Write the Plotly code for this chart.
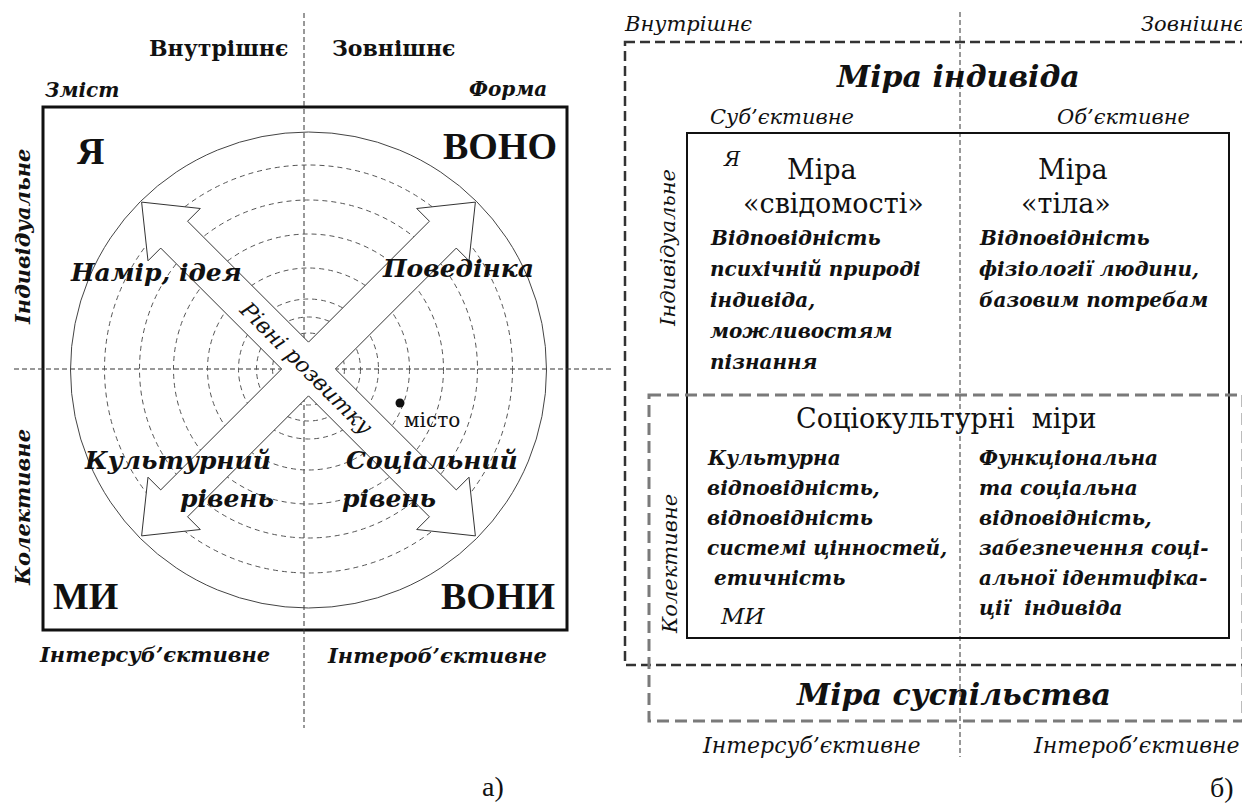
import numpy as np
import plotly.graph_objects as go

W, H = 1250, 803
PAD = 8  # page body margin in the browser
TIMES = "Liberation Serif"
WIDE = "DejaVu Serif"

# ---------------- data: panel а) ----------------
ring_radii = [36, 52, 70, 101, 135, 169, 204]
outer_radius = 238
arrow_angles_deg = [45, 135, 225, 315]
arrow_tip_dist = 236
arrow_head_len = 46
arrow_head_half = 37
arrow_shaft_half = 19

a_top_words = ["Внутрішнє", "Зовнішнє"]
a_corner_words = ["Зміст", "Форма"]
a_quadrant_words = ["Я", "ВОНО", "МИ", "ВОНИ"]
a_arrow_words = ["Намір, ідея", "Поведінка", "Культурний", "рівень", "Соціальний", "рівень"]
a_axis_word = "Рівні розвитку"
a_city_word = "місто"
a_bottom_words = ["Інтерсуб’єктивне", "Інтероб’єктивне"]
a_side_words = ["Індивідуальне", "Колективне"]
a_label = "а)"

# ---------------- data: panel б) ----------------
b_top_words = ["Внутрішнє", "Зовнішнє"]
b_title_top = "Міра індивіда"
b_title_bottom = "Міра суспільства"
b_sub_words = ["Суб’єктивне", "Об’єктивне"]
b_bottom_words = ["Інтерсуб’єктивне", "Інтероб’єктивне"]
b_side_words = ["Індивідуальне", "Колективне"]
b_measure_left = ["Міра", "«свідомості»"]
b_measure_right = ["Міра", "«тіла»"]
b_ind_left = ["Відповідність", "психічній природі", "індивіда,", "можливостям", "пізнання"]
b_ind_right = ["Відповідність", "фізіології людини,", "базовим потребам"]
b_socio_title = "Соціокультурні  міри"
b_col_left = ["Культурна", "відповідність,", "відповідність", "системі цінностей,", " етичність"]
b_col_right = ["Функціональна", "та соціальна", "відповідність,", "забезпечення соці-",
               "альної ідентифіка-", "ції  індивіда"]
b_ya = "Я"
b_mi = "МИ"
b_label = "б)"

# ---------------- layout geometry ----------------
CX, CY = 308.5, 369
fig = go.Figure()
shapes = []

def line(x0, y0, x1, y1, color="#333", width=1, dash="5px,3px"):
    shapes.append(dict(type="line", x0=x0, y0=y0, x1=x1, y1=y1, xref="x", yref="y",
                       line=dict(color=color, width=width, dash=dash), layer="below"))

def rect(x0, y0, x1, y1, color="#111", width=2, dash="solid"):
    shapes.append(dict(type="rect", x0=x0, y0=y0, x1=x1, y1=y1, xref="x", yref="y",
                       line=dict(color=color, width=width, dash=dash),
                       fillcolor="rgba(0,0,0,0)", layer="below"))

# panel a: square, axes, rings
rect(43, 107, 567, 630, color="#111", width=3)
line(304, 13, 304, 728)
line(14, 369, 614, 369)
for r in ring_radii:
    shapes.append(dict(type="circle", x0=CX - r, y0=CY - r, x1=CX + r, y1=CY + r,
                       xref="x", yref="y", line=dict(color="#555", width=1, dash="5px,4px"),
                       layer="below"))
shapes.append(dict(type="circle", x0=CX - outer_radius, y0=CY + 1 - outer_radius,
                   x1=CX + outer_radius, y1=CY + 1 + outer_radius, xref="x", yref="y",
                   line=dict(color="#444", width=1), layer="below"))

# panel b: frames
line(960, 12, 960, 757)
rect(625, 42, 1249, 665, color="#333", width=2.5, dash="10px,5px")
rect(687, 133, 1229, 638, color="#111", width=2)
rect(649, 395, 1243, 721, color="#7a7a7a", width=3, dash="12px,6px")

# cross of double arrows (union outline)
pts = []
sh, hh, L, hl = arrow_shaft_half, arrow_head_half, arrow_tip_dist, arrow_head_len
for a in [np.deg2rad(d) for d in arrow_angles_deg]:
    u = np.array([np.cos(a), np.sin(a)])
    v = np.array([np.cos(a + np.pi / 2), np.sin(a + np.pi / 2)])
    pts.append(sh * (u - v))
    pts.append((L - hl) * u - sh * v)
    pts.append((L - hl) * u - hh * v)
    pts.append(L * u)
    pts.append((L - hl) * u + hh * v)
    pts.append((L - hl) * u + sh * v)
pts.append(pts[0])
pts = np.array(pts)
fig.add_trace(go.Scatter(x=pts[:, 0] + CX, y=pts[:, 1] + CY, mode="lines", fill="toself",
                         fillcolor="white", line=dict(color="#333", width=1),
                         hoverinfo="skip", showlegend=False))

fig.add_trace(go.Scatter(x=[400], y=[403], mode="markers",
                         marker=dict(color="#111", size=9), hoverinfo="skip", showlegend=False))

ann = []

def txt(x, y, s, size, bold=False, italic=False, xanchor="center", angle=0,
        family=WIDE, color="#111"):
    t = s
    if italic:
        t = "<i>" + t + "</i>"
    if bold:
        t = "<b>" + t + "</b>"
    ann.append(dict(x=x, y=y, xref="x", yref="y", text=t, showarrow=False,
                    xanchor=xanchor, yanchor="middle", textangle=angle,
                    font=dict(family=family, size=size, color=color)))

# panel a texts
txt(218, 48, a_top_words[0], 22, bold=True)
txt(393, 48, a_top_words[1], 22, bold=True)
txt(82, 90, a_corner_words[0], 20, bold=True, italic=True)
txt(508, 89, a_corner_words[1], 20, bold=True, italic=True)
txt(90, 151, a_quadrant_words[0], 38, bold=True, family=TIMES)
txt(500, 146, a_quadrant_words[1], 38, bold=True, family=TIMES)
txt(85, 596, a_quadrant_words[2], 38, bold=True, family=TIMES)
txt(498, 596, a_quadrant_words[3], 38, bold=True, family=TIMES)
txt(156, 272, a_arrow_words[0], 25, bold=True, italic=True)
txt(458, 268, a_arrow_words[1], 25, bold=True, italic=True)
txt(273, 460, a_arrow_words[2], 25, bold=True, italic=True, xanchor="right")
txt(276, 498, a_arrow_words[3], 25, bold=True, italic=True, xanchor="right")
txt(344, 460, a_arrow_words[4], 25, bold=True, italic=True, xanchor="left")
txt(340, 498, a_arrow_words[5], 25, bold=True, italic=True, xanchor="left")
txt(306, 367, a_axis_word, 22, italic=True, angle=45)
txt(432, 420, a_city_word, 20)
txt(154, 654, a_bottom_words[0], 21, bold=True, italic=True)
txt(437, 655, a_bottom_words[1], 21, bold=True, italic=True)
txt(22, 237, a_side_words[0], 21, bold=True, italic=True, angle=-90)
txt(22, 508, a_side_words[1], 21, bold=True, italic=True, angle=-90)
txt(493, 786, a_label, 28, family=TIMES)

# panel b texts
txt(622, 24, b_top_words[0], 21, italic=True, xanchor="left")
txt(1247, 24, b_top_words[1], 21, italic=True, xanchor="right")
txt(958, 76, b_title_top, 30, bold=True, italic=True)
txt(782, 117, b_sub_words[0], 21, italic=True)
txt(1123, 117, b_sub_words[1], 21, italic=True)
txt(732, 159, b_ya, 20, italic=True)
txt(822, 169, b_measure_left[0], 27)
txt(833, 203, b_measure_left[1], 27)
txt(1073, 169, b_measure_right[0], 27)
txt(1066, 203, b_measure_right[1], 27)
for i, s in enumerate(b_ind_left):
    txt(708, 238 + 31 * i, s, 20, bold=True, italic=True, xanchor="left")
for i, s in enumerate(b_ind_right):
    txt(977, 238 + 31 * i, s, 20, bold=True, italic=True, xanchor="left")
txt(946, 418, b_socio_title, 27)
for i, s in enumerate(b_col_left):
    txt(705, 458 + 30 * i, s, 20, bold=True, italic=True, xanchor="left")
txt(718, 616, b_mi, 23, italic=True, xanchor="left")
for i, s in enumerate(b_col_right):
    txt(977, 458 + 30 * i, s, 20, bold=True, italic=True, xanchor="left")
txt(668, 248, b_side_words[0], 21, italic=True, angle=-90)
txt(670, 564, b_side_words[1], 21, italic=True, angle=-90)
txt(953, 694, b_title_bottom, 30, bold=True, italic=True)
txt(811, 745, b_bottom_words[0], 22, italic=True)
txt(1136, 745, b_bottom_words[1], 22, italic=True)
txt(1222, 787, b_label, 28, family=TIMES)

fig.update_layout(
    width=W - PAD, height=H - PAD, margin=dict(l=0, r=0, t=0, b=0),
    paper_bgcolor="white", plot_bgcolor="white",
    xaxis=dict(range=[PAD, W], visible=False, fixedrange=True),
    yaxis=dict(range=[H, PAD], visible=False, fixedrange=True),
    shapes=shapes, annotations=ann, showlegend=False,
)
fig.write_html("out.html")
